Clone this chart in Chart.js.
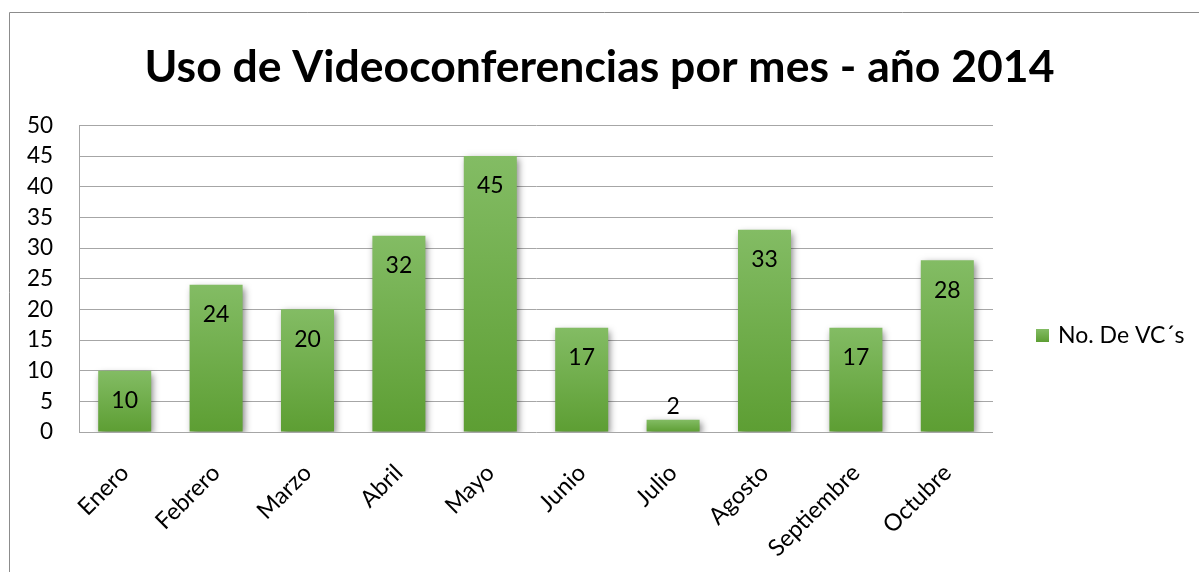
<!DOCTYPE html>
<html>
<head>
<meta charset="utf-8">
<script src="https://cdn.jsdelivr.net/npm/chart.js@4/dist/chart.umd.min.js"></script>
<style>
html, body { margin: 0; padding: 0; background: #fff; }
#wrap { width: 1199px; height: 572px; }
</style>
</head>
<body>
<div id="wrap"><canvas id="ChartVC" width="1199" height="572"></canvas></div>
<script>
var meses = ["Enero", "Febrero", "Marzo", "Abril", "Mayo", "Junio", "Julio", "Agosto", "Septiembre", "Octubre"];
var cantidadVC = [10, 24, 20, 32, 45, 17, 2, 33, 17, 28];
var nombreSerie = "No. De VC´s";
var titulo = "Uso de Videoconferencias por mes - año 2014";

var fuente = "Lato";

// marco gris del grafico (solo se ven arriba e izquierda)
var marco = {
    id: 'marco',
    beforeDraw: function(chart){
        var c = chart.ctx;
        c.save();
        c.strokeStyle = '#8c8c8c';
        c.lineWidth = 1;
        c.beginPath();
        c.moveTo(9.5, 600);
        c.lineTo(9.5, 12.5);
        c.lineTo(1300, 12.5);
        c.stroke();
        c.restore();
    }
};

var sombra = {
    id: 'sombra',
    beforeDatasetsDraw: function(chart){
        var c = chart.ctx;
        c.save();
        c.shadowColor = 'rgba(0,0,0,0.5)';
        c.shadowBlur = 7;
        c.shadowOffsetX = 2;
        c.shadowOffsetY = 3;
    },
    afterDatasetsDraw: function(chart){
        chart.ctx.restore();
    }
};

// valores dentro de la barra, cerca del extremo (o encima si no caben)
var etiquetas = {
    id: 'etiquetas',
    afterDatasetsDraw: function(chart){
        var c = chart.ctx;
        var meta = chart.getDatasetMeta(0);
        c.save();
        c.shadowColor = 'transparent';
        c.font = '23px ' + fuente;
        c.fillStyle = '#000';
        c.textAlign = 'center';
        c.textBaseline = 'middle';
        meta.data.forEach(function(bar, i){
            var alto = bar.base - bar.y;
            var y = bar.y + 30;
            if (alto < 45) y = (bar.y + bar.base) / 2 + 1;
            if (alto < 24) y = bar.y - 13;
            c.fillText(String(chart.data.datasets[0].data[i]), bar.x, y);
        });
        c.restore();
    }
};

var leyenda = {
    id: 'leyenda',
    afterDraw: function(chart){
        var c = chart.ctx;
        var ds = chart.data.datasets[0];
        c.save();
        var g = c.createLinearGradient(0, 329, 0, 342);
        g.addColorStop(0, '#83bc64');
        g.addColorStop(1, '#5d9e33');
        c.fillStyle = g;
        c.fillRect(1036, 329, 13, 13);
        c.font = '23px ' + fuente;
        c.fillStyle = '#000';
        c.textAlign = 'left';
        c.textBaseline = 'middle';
        c.fillText(ds.label, 1058, 336);
        c.restore();
    }
};

var ctxB = document.getElementById("ChartVC").getContext('2d');
var grafico = new Chart(ctxB, {
    type: 'bar',
    data: {
        labels: meses,
        datasets: [{
            label: nombreSerie,
            data: cantidadVC,
            backgroundColor: function(context){
                var chart = context.chart;
                if (!chart.chartArea || context.type !== 'data') return '#70ad47';
                var ey = chart.scales.y;
                var arriba = ey.getPixelForValue(context.parsed.y);
                var abajo = ey.getPixelForValue(0);
                if (!isFinite(arriba) || arriba === abajo) return '#70ad47';
                var g = chart.ctx.createLinearGradient(0, arriba, 0, abajo);
                g.addColorStop(0, '#83bc64');
                g.addColorStop(1, '#5d9e33');
                return g;
            },
            borderWidth: 0,
            categoryPercentage: 0.58,
            barPercentage: 1
        }]
    },
    options: {
        responsive: false,
        animation: false,
        layout: { padding: 0 },
        plugins: {
            legend: { display: false },
            tooltip: { enabled: false },
            title: {
                display: true,
                text: titulo,
                color: '#000',
                font: { family: fuente, size: 44.5, weight: 'bold', lineHeight: 1.2 },
                padding: { top: 41, bottom: 31 }
            }
        },
        scales: {
            x: {
                grid: { display: false },
                border: { display: false },
                ticks: {
                    color: '#000',
                    font: { family: fuente, size: 23.5 },
                    maxRotation: 45,
                    minRotation: 45,
                    padding: 19
                },
                afterFit: function(s){ s.height = 140; }
            },
            y: {
                min: 0,
                max: 50,
                ticks: {
                    stepSize: 5,
                    color: '#000',
                    font: { family: fuente, size: 22.5 },
                    padding: 26
                },
                grid: { color: '#a6a6a6', drawTicks: false },
                border: { color: '#a6a6a6' },
                afterFit: function(s){ s.width = 79; }
            },
            derecha: {
                position: 'right',
                display: true,
                grid: { display: false },
                border: { display: false },
                ticks: { display: false },
                afterFit: function(s){ s.width = 206; }
            }
        }
    },
    plugins: [marco, sombra, etiquetas, leyenda]
});
</script>
</body>
</html>
